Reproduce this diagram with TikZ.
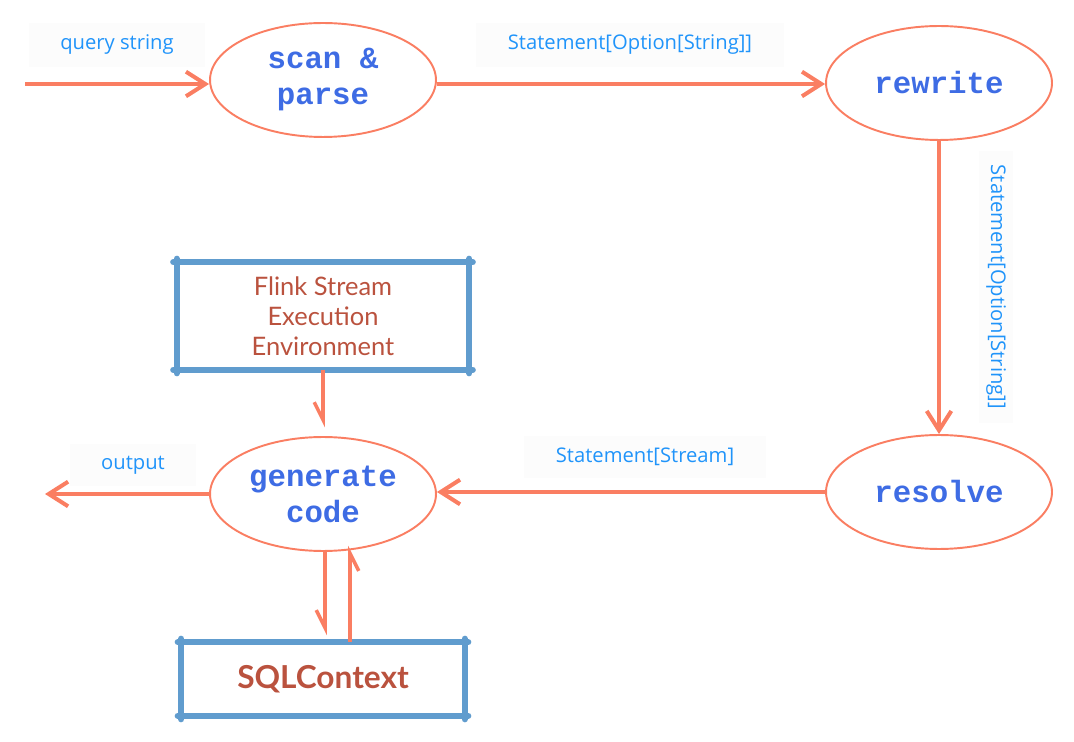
\documentclass[tikz,border=0pt]{standalone}
\usepackage{fontspec}
\setmonofont{Liberation Mono}
\newfontfamily\labelfont{Open Sans}
\newfontfamily\boxfont{Lato}
\usetikzlibrary{arrows.meta,calc,shapes.geometric}

\definecolor{flowline}{RGB}{250,126,98}
\definecolor{steptext}{RGB}{62,108,228}
\definecolor{typetext}{RGB}{32,148,250}
\definecolor{envline}{RGB}{96,156,206}
\definecolor{envtext}{RGB}{186,82,62}

\tikzset{
  stage/.style={ellipse, draw=flowline, line width=1.1pt, minimum width=4.52cm,
    minimum height=2.28cm, inner sep=0pt, align=center, text=steptext,
    font=\fontsize{17.5}{20.5}\selectfont\ttfamily\bfseries},
  typelabel/.style={fill=black!1.2, inner xsep=18pt, inner ysep=7pt, text=typetext,
    font=\fontsize{11.5}{13.5}\selectfont\labelfont},
  envbox/.style={inner sep=0pt, align=center, text=envtext},
  envside/.style={envline, line width=3.4pt, line cap=round,
    shorten <=-2pt, shorten >=-2pt},
  flow/.style={flowline, line width=2.3pt, -{Straight Barb[length=11pt,width=14pt,line width=2.3pt]}},
  halfflow/.style={flowline, line width=2pt, -{Straight Barb[right,length=10pt,width=10pt,line width=2pt]}}
}

\begin{document}
\begin{tikzpicture}[x=0.02cm, y=-0.02cm]
  \useasboundingbox (0,0) rectangle (1074,742);

  % stages
  \node[stage] (scan) at (323,80) {scan \&\\parse};
  \node[stage] (rewrite) at (939,83) {rewrite};
  \node[stage] (resolve) at (939,492) {resolve};
  \node[stage] (gen) at (323,494) {generate\\code};

  % environment boxes
  \node[envbox, minimum width=5.84cm, minimum height=2.14cm,
    font=\fontsize{14.5}{17}\selectfont\boxfont] (flink) at (323,316)
    {Flink Stream\\Execution\\Environment};
  \node[envbox, minimum width=5.66cm, minimum height=1.46cm,
    font=\fontsize{18}{21}\selectfont\boxfont\bfseries] (sql) at (323,679) {SQLContext};
  \foreach \b in {flink,sql} {
    \draw[envside] (\b.north west) -- (\b.north east);
    \draw[envside] (\b.north east) -- (\b.south east);
    \draw[envside] (\b.south east) -- (\b.south west);
    \draw[envside] (\b.south west) -- (\b.north west);
  }

  % type labels
  \node[typelabel] (lquery) at (117,45) {query string};
  \node[typelabel] (lparsed) at (630,45) {Statement[Option[String]]};
  \node[typelabel, rotate=-90, inner xsep=8pt, inner ysep=4pt] (lrewritten) at (996,287) {Statement[Option[String]]};
  \node[typelabel] (lresolved) at (645,457) {Statement[Stream]};
  \node[typelabel] (lout) at (133,465) {output};

  % flow
  \coordinate (in) at (25,84);
  \coordinate (out) at (45,494);
  \draw[flow] (in) -- (scan.west |- in);
  \draw[flow] (scan.east |- in) -- (rewrite.west |- in);
  \draw[flow] (rewrite.south) -- (resolve.north);
  \draw[flow] (resolve.west) -- (gen.east |- resolve.west);
  \draw[flow] (gen.west) -- (out);
  \draw[halfflow, shorten >=5pt] (flink.south) -- (gen.north);
  \draw[halfflow, shorten >=4pt] ($(gen.south)+(2,0)$) -- ($(sql.north)+(2,0)$);
  \draw[halfflow] ($(sql.north)+(27,0)$) -- ($(gen.south)+(27,-6)$);
\end{tikzpicture}
\end{document}
